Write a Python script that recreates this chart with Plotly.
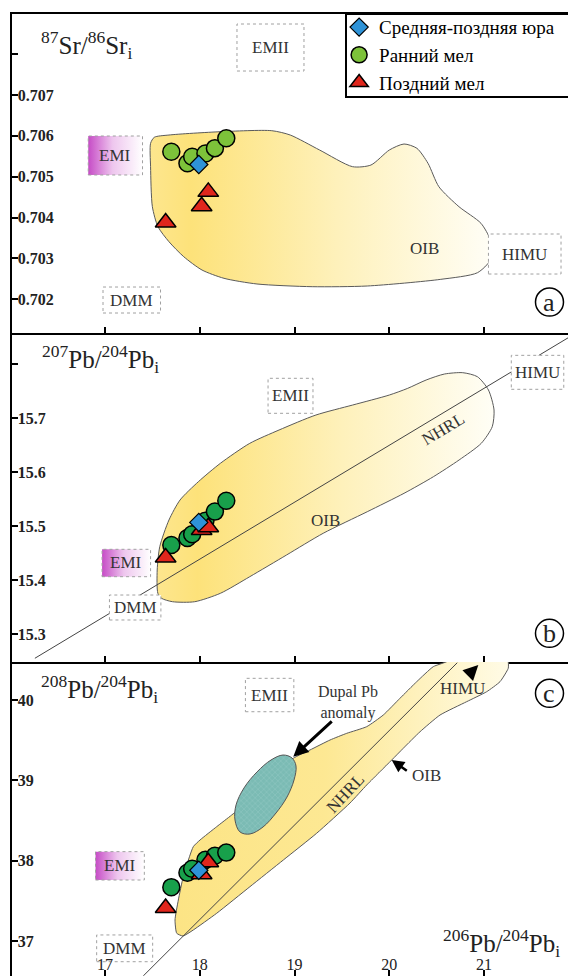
import plotly.graph_objects as go

FONT = "Liberation Serif, Times New Roman, serif"

# ---------------- sample data ----------------
group_names = ["Средняя-поздняя юра", "Ранний мел", "Поздний мел"]

jur_pb206 = [17.99]
jur_sr = [0.70530]
jur_pb207 = [15.507]
jur_pb208 = [37.88]

early_pb206 = [17.70, 17.87, 17.92, 18.06, 18.16, 18.28]
early_sr = [0.70561, 0.70533, 0.70549, 0.70557, 0.70570, 0.70594]
early_pb207 = [15.465, 15.478, 15.485, 15.510, 15.527, 15.547]
early_pb208 = [37.67, 37.85, 37.90, 38.01, 38.06, 38.10]

late_pb206 = [17.64, 18.02, 18.09]
late_sr = [0.70388, 0.70428, 0.70463]
late_pb207 = [15.442, 15.493, 15.498]
late_pb208 = [37.41, 37.83, 37.98]

# ---------------- reference fields (outlines) ----------------
oib_a_pb206 = [17.481, 17.520, 17.675, 18.218, 18.760, 18.955, 19.265, 19.613, 19.807, 20.001,
               20.156, 20.292, 20.409, 20.524, 20.736, 20.968, 21.066, 21.066, 20.931, 20.544,
               19.768, 19.187, 18.604, 18.256, 18.024, 17.831, 17.675, 17.559, 17.500, 17.481, 17.481]
oib_a_sr = [0.705818, 0.705965, 0.706021, 0.706102, 0.706127, 0.706021, 0.705654, 0.705246, 0.705287, 0.705654,
            0.705801, 0.705696, 0.705329, 0.704756, 0.704267, 0.703861, 0.703452, 0.702963, 0.702652, 0.702490,
            0.702327, 0.702310, 0.702376, 0.702515, 0.702718, 0.703044, 0.703411, 0.703778, 0.704267, 0.705246, 0.705818]

oib_b_pb206 = [17.558, 17.551, 17.578, 17.675, 17.792, 17.985, 18.218, 18.528, 18.837, 19.226,
               19.613, 20.001, 20.195, 20.389, 20.582, 20.776, 20.931, 21.047, 21.106, 21.087,
               20.971, 20.737, 20.466, 20.156, 19.768, 19.303, 18.916, 18.528, 18.218, 17.947,
               17.713, 17.597, 17.558]
oib_b_pb207 = [15.3755, 15.4187, 15.4619, 15.5114, 15.5485, 15.5824, 15.6166, 15.6536, 15.6783, 15.7061,
               15.7246, 15.7432, 15.7556, 15.7710, 15.7821, 15.7846, 15.7771, 15.7525, 15.7154, 15.6844,
               15.6536, 15.6227, 15.5917, 15.5609, 15.5268, 15.4868, 15.4465, 15.4063, 15.3755, 15.3599,
               15.3599, 15.3662, 15.3755]

oib_c_pb206 = [17.757, 17.739, 17.774, 17.826, 17.932, 18.003, 18.179, 18.337, 18.530, 18.741,
               18.987, 19.164, 19.375, 19.551, 19.762, 19.937, 20.113, 20.290, 20.465, 20.606,
               20.747, 21.063, 21.222, 21.256, 21.256, 21.169, 21.028, 20.817, 20.536, 20.325,
               20.148, 20.026, 19.902, 19.762, 19.586, 19.234, 18.882, 18.530, 18.179, 17.932,
               17.823, 17.757]
oib_c_pb208 = [37.096, 37.261, 37.510, 37.800, 38.174, 38.257, 38.423, 38.568, 38.755, 39.004,
               39.274, 39.378, 39.502, 39.585, 39.668, 39.813, 40.021, 40.228, 40.415, 40.477,
               40.598, 40.647, 40.598, 40.477, 40.395, 40.228, 40.103, 39.979, 39.813, 39.605,
               39.399, 39.253, 39.107, 38.942, 38.718, 38.341, 38.008, 37.676, 37.345, 37.137,
               37.062, 37.096]

dupal_pb206 = [18.879, 18.974, 19.016, 18.995, 18.921, 18.805, 18.668, 18.530, 18.425, 18.372,
               18.383, 18.467, 18.604, 18.752, 18.879]
dupal_pb208 = [39.315, 39.278, 39.178, 39.004, 38.792, 38.593, 38.419, 38.332, 38.357, 38.506,
               38.693, 38.905, 39.104, 39.253, 39.315]

nhrl_b_pb206 = [16.26, 21.97]
nhrl_b_pb207 = [15.255, 15.858]
nhrl_c_pb206 = [17.404, 20.718]
nhrl_c_pb208 = [36.565, 40.464]

# ---------------- ticks ----------------
x_ticks = [17, 18, 19, 20, 21]
x_ticktext = ["17", "18", "19", "20", "21"]
sr_ticks = [0.702, 0.703, 0.704, 0.705, 0.706, 0.707, 0.708]
sr_ticktext = ["0.702", "0.703", "0.704", "0.705", "0.706", "0.707", ""]
pb207_ticks = [15.3, 15.4, 15.5, 15.6, 15.7, 15.8]
pb207_ticktext = ["15.3", "15.4", "15.5", "15.6", "15.7", ""]
pb208_ticks = [37, 38, 39, 40]
pb208_ticktext = ["37", "38", "39", "40"]

# ---------------- layout geometry ----------------
X_RANGE = [16.0185, 21.971]
SR_RANGE = [0.701177, 0.708982]
PB7_RANGE = [15.2481, 15.8582]
PB8_RANGE = [36.564, 40.473]

# end-member label boxes (x0, x1, y0, y1) in axis units
boxes_a = {"EMII": (18.393, 19.100, 0.707587, 0.708737),
           "EMI": (16.823, 17.396, 0.705043, 0.705997),
           "HIMU": (21.047, 21.813, 0.702620, 0.703599),
           "DMM": (16.979, 17.586, 0.701666, 0.702302)}
boxes_b = {"EMII": (18.721, 19.195, 15.7093, 15.7742),
           "HIMU": (21.288, 21.842, 15.7538, 15.8168),
           "EMI": (16.969, 17.481, 15.4063, 15.4571),
           "DMM": (17.047, 17.590, 15.3260, 15.3723)}
boxes_c = {"EMII": (18.482, 18.993, 39.854, 40.270),
           "EMI": (16.900, 17.415, 37.759, 38.112),
           "DMM": (16.912, 17.503, 36.742, 37.075)}

OIB_SCALE_AB = [[0, "#fde68e"], [0.12, "#fde27a"], [0.55, "#fef1bb"], [1, "#fffef6"]]
OIB_SCALE_C = [[0, "#fce485"], [0.45, "#fde893"], [1, "#fffbe6"]]
EMI_SCALE = [[0, "#c64cc6"], [0.45, "#eec6ee"], [1, "#ffffff"]]

fig = go.Figure()


def add_field(x, y, xa, ya, scale, smoothing=0.7):
    fig.add_trace(go.Scatter(
        x=x, y=y, xaxis=xa, yaxis=ya, mode="lines", fill="toself",
        fillgradient=dict(type="horizontal", colorscale=scale),
        line=dict(color="#5a5a5a", width=1, shape="spline", smoothing=smoothing),
        hoverinfo="skip", showlegend=False))


def add_line(x, y, xa, ya):
    fig.add_trace(go.Scatter(x=x, y=y, xaxis=xa, yaxis=ya, mode="lines",
                             line=dict(color="#444444", width=1),
                             hoverinfo="skip", showlegend=False))


def add_boxes(boxes, xa, ya):
    for name, (x0, x1, y0, y1) in boxes.items():
        kw = dict(fillgradient=dict(type="horizontal", colorscale=EMI_SCALE)) if name == "EMI" \
            else dict(fillcolor="white")
        fig.add_trace(go.Scatter(
            x=[x0, x1, x1, x0, x0], y=[y0, y0, y1, y1, y0], xaxis=xa, yaxis=ya,
            mode="lines", fill="toself", line=dict(color="#a0a0a0", width=1, dash="dot"),
            hoverinfo="skip", showlegend=False, **kw))
        fig.add_annotation(x=(x0 + x1) / 2, y=(y0 + y1) / 2, xref=xa, yref=ya, text=name,
                           showarrow=False, font=dict(family=FONT, size=17, color="#333333"))


# ---- panel a: Sr ----
add_field(oib_a_pb206, oib_a_sr, "x", "y", OIB_SCALE_AB)
add_boxes(boxes_a, "x", "y")
# ---- panel b: 207Pb ----
add_field(oib_b_pb206, oib_b_pb207, "x2", "y2", OIB_SCALE_AB)
add_line(nhrl_b_pb206, nhrl_b_pb207, "x2", "y2")
add_boxes(boxes_b, "x2", "y2")
# ---- panel c: 208Pb ----
add_field(oib_c_pb206, oib_c_pb208, "x3", "y3", OIB_SCALE_C, smoothing=0.5)
add_line(nhrl_c_pb206, nhrl_c_pb208, "x3", "y3")
fig.add_trace(go.Scatter(
    x=dupal_pb206, y=dupal_pb208, xaxis="x3", yaxis="y3", mode="lines", fill="toself",
    fillcolor="#7fbfb8",
    fillpattern=dict(shape="x", bgcolor="#7bbbb4", fgcolor="#a4d4cf", size=4, solidity=0.25),
    line=dict(color="#555555", width=1, shape="spline", smoothing=1.0),
    hoverinfo="skip", showlegend=False))
add_boxes(boxes_c, "x3", "y3")

# ---- samples ----
GREEN_A = "#7dc23a"
GREEN_BC = "#18a04b"
BLUE = "#2e93d8"
RED = "#e0261c"
panels = [("x", "y", jur_sr, early_sr, late_sr, GREEN_A, True),
          ("x2", "y2", jur_pb207, early_pb207, late_pb207, GREEN_BC, False),
          ("x3", "y3", jur_pb208, early_pb208, late_pb208, GREEN_BC, False)]
for xa, ya, jy, ey, ly, green, show in panels:
    fig.add_trace(go.Scatter(x=early_pb206, y=ey, xaxis=xa, yaxis=ya, mode="markers",
                             name=group_names[1], legendrank=2, showlegend=show,
                             marker=dict(symbol="circle", size=17, color=green,
                                         line=dict(color="black", width=1.5))))
    fig.add_trace(go.Scatter(x=late_pb206, y=ly, xaxis=xa, yaxis=ya, mode="markers",
                             name=group_names[2], legendrank=3, showlegend=show,
                             marker=dict(symbol="triangle-up", size=18, color=RED,
                                         line=dict(color="black", width=1.5))))
    fig.add_trace(go.Scatter(x=jur_pb206, y=jy, xaxis=xa, yaxis=ya, mode="markers",
                             name=group_names[0], legendrank=1, showlegend=show,
                             marker=dict(symbol="diamond", size=14, color=BLUE,
                                         line=dict(color="black", width=1.2))))

# ---------------- axes ----------------
# The page body has an 8 px margin, so the figure is 8 px smaller than the window.
D_AB, D_BC = 0.6684, 0.3264
axis_common = dict(showgrid=False, zeroline=False, linecolor="black", linewidth=2,
                   ticks="inside", ticklen=6, tickwidth=2, tickcolor="black", automargin=False)
yfont = dict(family=FONT, size=16, color="#222222", weight="bold")

fig.update_layout(
    width=568, height=968,
    margin=dict(l=4, r=0, t=6, b=0, pad=0, autoexpand=False),
    paper_bgcolor="white", plot_bgcolor="white",
    xaxis=dict(domain=[0, 1], anchor="y", range=X_RANGE, showline=True, mirror=True,
               tickvals=x_ticks, showticklabels=False, **axis_common),
    yaxis=dict(domain=[D_AB, 1], anchor="x", range=SR_RANGE, showline=True,
               tickvals=sr_ticks, ticktext=sr_ticktext, ticklabelposition="inside",
               tickfont=yfont, **axis_common),
    xaxis2=dict(domain=[0, 1], anchor="y2", range=X_RANGE, matches="x", showline=True,
                tickvals=x_ticks, showticklabels=False, **axis_common),
    yaxis2=dict(domain=[D_BC, D_AB], anchor="x2", range=PB7_RANGE, showline=True,
                tickvals=pb207_ticks, ticktext=pb207_ticktext, ticklabelposition="inside",
                tickfont=yfont, **axis_common),
    xaxis3=dict(domain=[0, 1], anchor="y3", range=X_RANGE, matches="x", showline=False,
                tickvals=x_ticks, ticktext=x_ticktext, ticklabelposition="inside",
                ticklabelstandoff=-3,
                tickfont=dict(family=FONT, size=16, color="#222222"), **axis_common),
    yaxis3=dict(domain=[0, D_BC], anchor="x3", range=PB8_RANGE, showline=True,
                tickvals=pb208_ticks, ticktext=pb208_ticktext, ticklabelposition="inside",
                tickfont=yfont, **axis_common),
    legend=dict(x=0.580, y=1.006, xanchor="left", yanchor="top", bgcolor="rgba(0,0,0,0)",
                borderwidth=0, font=dict(family=FONT, size=19, color="black"),
                tracegroupgap=0),
)

# legend frame (white box with black border, legend drawn on top of it)
fig.add_shape(type="rect", xref="paper", yref="paper", x0=0.5922, x1=1.05, y0=0.9137, y1=1.0,
              fillcolor="white", line=dict(color="black", width=2), layer="above")

# ---------------- text annotations ----------------
title_font = dict(family=FONT, size=25, color="#222222")
fig.add_annotation(xref="paper", yref="paper", x=0.0472, y=0.9678, xanchor="left", yanchor="middle",
                   text="<sup>87</sup>Sr/<sup>86</sup>Sr<sub>i</sub>", showarrow=False, font=title_font)
fig.add_annotation(xref="paper", yref="paper", x=0.0496, y=0.6409, xanchor="left", yanchor="middle",
                   text="<sup>207</sup>Pb/<sup>204</sup>Pb<sub>i</sub>", showarrow=False, font=title_font)
fig.add_annotation(xref="paper", yref="paper", x=0.0472, y=0.2983, xanchor="left", yanchor="middle",
                   text="<sup>208</sup>Pb/<sup>204</sup>Pb<sub>i</sub>", showarrow=False, font=title_font)
fig.add_annotation(xref="paper", yref="paper", x=0.9752, y=0.0343, xanchor="right", yanchor="middle",
                   text="<sup>206</sup>Pb/<sup>204</sup>Pb<sub>i</sub>", showarrow=False, font=title_font)

lab_font = dict(family=FONT, size=17, color="#333333")
fig.add_annotation(xref="x", yref="y", x=20.367, y=0.703256, text="OIB", showarrow=False, font=lab_font)
fig.add_annotation(xref="x2", yref="y2", x=19.322, y=15.5114, text="OIB", showarrow=False, font=lab_font)
fig.add_annotation(xref="x2", yref="y2", x=20.563, y=15.680, text="NHRL", textangle=-31,
                   showarrow=False, font=lab_font)
fig.add_annotation(xref="x3", yref="y3", x=19.533, y=38.842, text="NHRL", textangle=-47,
                   showarrow=False, font=lab_font)
fig.add_annotation(xref="x3", yref="y3", x=19.565, y=39.972, text="Dupal Pb<br>anomaly",
                   showarrow=False, font=dict(family=FONT, size=16, color="#333333"))
fig.add_annotation(xref="x3", yref="y3", x=20.388, y=39.066, text="OIB", showarrow=False, font=lab_font)
fig.add_annotation(xref="x3", yref="y3", x=20.778, y=40.149, text="HIMU", showarrow=False, font=lab_font)

# arrows
for head, tail, w in [((18.987, 39.294), (19.409, 39.751), 3),
                      ((20.026, 39.253), (20.201, 39.107), 2.5),
                      ((20.940, 40.436), (20.817, 40.290), 3)]:
    fig.add_annotation(xref="x3", yref="y3", axref="x3", ayref="y3",
                       x=head[0], y=head[1], ax=tail[0], ay=tail[1], text="",
                       showarrow=True, arrowhead=2, arrowsize=1, arrowwidth=w, arrowcolor="black",
                       standoff=0)

# panel letters in circles
for letter, py in [("a", 0.7006), ("b", 0.3562), ("c", 0.2939)]:
    fig.add_shape(type="circle", xref="paper", yref="paper", xsizemode="pixel", ysizemode="pixel",
                  xanchor=0.9530, yanchor=py, x0=-14, x1=14, y0=-14, y1=14,
                  line=dict(color="black", width=1.5), layer="above")
    fig.add_annotation(xref="paper", yref="paper", x=0.9530, y=py, text=letter, showarrow=False,
                       xanchor="center", yanchor="middle",
                       font=dict(family=FONT, size=26, color="#222222"))

fig.write_html("out.html")
